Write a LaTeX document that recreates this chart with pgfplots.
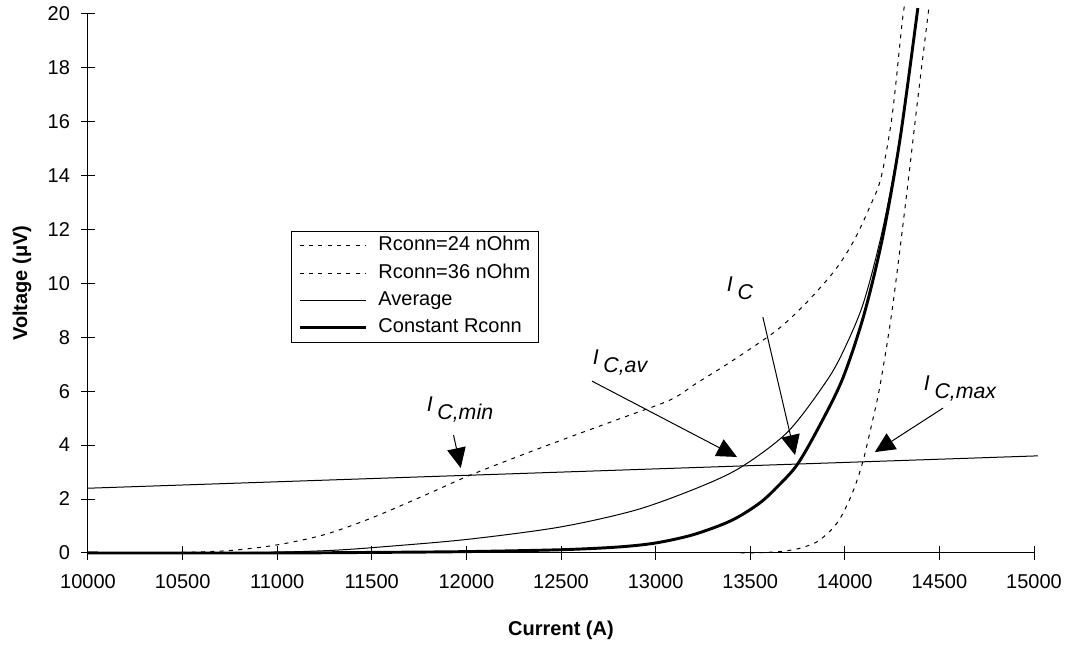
\documentclass[border=0pt]{standalone}
\usepackage{fontspec}
\setmainfont{Liberation Sans}
\usepackage{pgfplots}
\pgfplotsset{compat=1.18}
\usetikzlibrary{arrows.meta}

% 1 px of the reference = 0.75pt
\tikzset{
  callout/.style={line width=0.75pt, -{Triangle[length=15pt,width=14pt]}},
  lbl/.style={font=\fontsize{16}{18}\selectfont\itshape, anchor=center},
}
\newcommand{\ilab}[1]{I\hspace{3.5pt}\raisebox{-6pt}{#1}}

\begin{document}
\begin{tikzpicture}
\begin{axis}[
    name=ax,
    scale only axis,
    width=709.5pt, height=404.6pt,
    xmin=10000, xmax=15000, ymin=0, ymax=20,
    axis x line=bottom, axis y line=left,
    axis line style={-, line width=0.75pt},
    xtick={10000,10500,...,15000},
    ytick={0,2,...,20},
    scaled x ticks=false,
    tick align=center,
    major tick length=10pt,
    tick style={line width=0.75pt, black},
    minor tick num=0,
    clip=false,
    font=\fontsize{15}{17}\selectfont,
    /pgf/number format/assume math mode=true,
    x tick label style={/pgf/number format/1000 sep={}, /pgf/number format/fixed, yshift=-7.5pt},
    y tick label style={xshift=-5pt},
    xlabel={\bfseries Current (A)},
    ylabel={\bfseries Voltage (μV)},
    xlabel style={at={(axis description cs:0.5,-0.1427)}, anchor=center},
    ylabel style={at={(axis description cs:-0.0698,0.5)}, anchor=center},
    legend style={at={(0.2146,0.597)}, anchor=north west,
        font=\fontsize{15}{17}\selectfont, draw=black, line width=0.75pt, fill=white,
        inner xsep=5pt, inner ysep=3pt, row sep=5pt,
        nodes={inner sep=1pt, text height=10.5pt, text depth=3pt},
        /tikz/every odd column/.append style={column sep=7pt}},
    legend cell align=left,
    legend image code/.code={\draw[#1] (0pt,0pt) -- (50pt,0pt);},
    every axis plot/.append style={smooth, tension=0.5},
]
% criterion line
\addplot[black, line width=0.75pt, forget plot, sharp plot] coordinates {
    (10000,2.40) (15020,3.60)
};
\addplot[black, line width=0.75pt, dash pattern=on 3pt off 4pt] coordinates {
    (10400,0.00) (10500,0.02) (10750,0.09) (11000,0.30) (11250,0.68) (11500,1.30)
    (11800,2.20) (12008,2.85) (12300,3.65) (12547,4.30) (12800,4.95)
    (13076,5.67) (13218,6.30) (13400,7.10) (13641,8.26) (13800,9.30) (13950,10.5)
    (14050,11.6) (14130,12.8) (14191,13.9) (14250,16.2) (14302,19.6) (14318,20.4)
};
\addlegendentry{Rconn=24 nOhm}
\addplot[black, line width=0.75pt, dash pattern=on 3pt off 4pt] coordinates {
    (13450,0.00) (13550,0.01) (13650,0.05) (13750,0.15) (13850,0.40) (13920,0.80)
    (13963,1.15) (14000,1.60) (14050,2.40) (14096,3.40) (14140,4.70) (14186,6.20)
    (14250,9.00) (14323,13.07) (14380,16.50) (14439,19.90) (14445,20.20)
};
\addlegendentry{Rconn=36 nOhm}
\addplot[black, line width=0.75pt] coordinates {
    (10000,0.00) (10500,0.00) (11000,0.03) (11300,0.10) (11543,0.22) (12000,0.50)
    (12494,0.96) (12900,1.60) (13234,2.45) (13456,3.20) (13700,4.50) (13906,6.40)
    (14000,7.60) (14100,9.30) (14200,12.0) (14291,15.4) (14386,20.2)
};
\addlegendentry{Average}
\addplot[black, line width=2.2pt] coordinates {
    (10000,0.00) (11000,0.00) (11500,0.02) (12000,0.05) (12500,0.12) (12800,0.22)
    (13000,0.37) (13200,0.68) (13400,1.20) (13550,1.85) (13650,2.50) (13747,3.26)
    (13850,4.50) (13985,6.40) (14100,8.80) (14200,11.7) (14291,15.3) (14386,20.2)
};
\addlegendentry{Constant Rconn}

% annotations
\draw[callout] (axis cs:11932,4.37) -- (axis cs:11970,3.15);
\draw[callout] (axis cs:12664,6.37) -- (axis cs:13430,3.56);
\draw[callout] (axis cs:13567,8.74) -- (axis cs:13737,3.63);
\draw[callout] (axis cs:14519,5.37) -- (axis cs:14159,3.74);
\node[lbl] at (axis cs:11966,5.30) {\ilab{C,min}};
\node[lbl] at (axis cs:12812,7.07) {\ilab{C,av}};
\node[lbl] at (axis cs:13446,9.80) {\ilab{C}};
\node[lbl] at (axis cs:14609,6.10) {\ilab{C,max}};
\end{axis}
\pgfresetboundingbox
\path[use as bounding box] ([xshift=-66pt,yshift=-69.75pt]ax.south west)
    rectangle ([xshift=24.75pt,yshift=10.125pt]ax.north east);
\end{tikzpicture}
\end{document}
